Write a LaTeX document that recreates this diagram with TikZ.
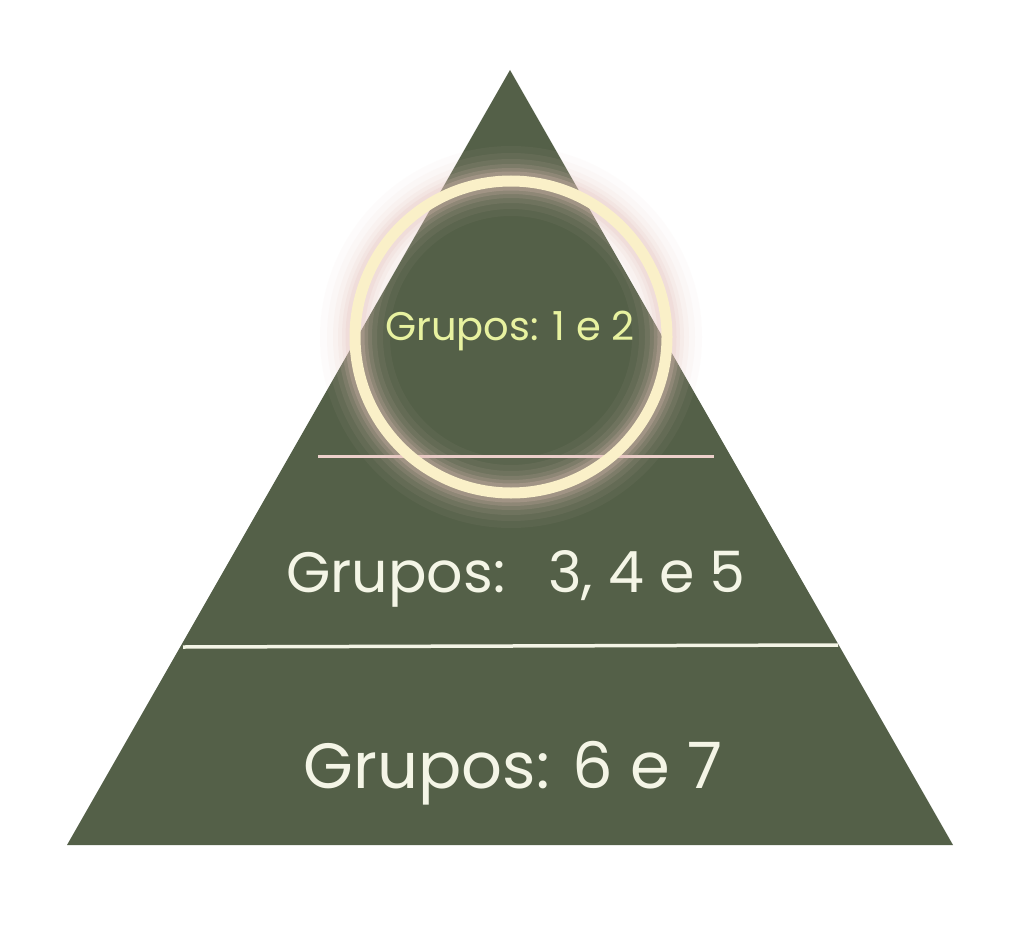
\documentclass[tikz,border=0pt]{standalone}
\usepackage{fontspec}
\setmainfont{Poppins}
\begin{document}
\begin{tikzpicture}[x=1pt,y=-1pt,
    layer/.style={text=textcream, inner sep=0pt, anchor=center},
    divider/.style={line width=3.5pt}]
\definecolor{pyrgreen}{RGB}{84,96,72}
\definecolor{textcream}{RGB}{244,245,230}
\definecolor{ringcream}{RGB}{250,240,200}
\definecolor{glowpink}{RGB}{232,196,190}
\definecolor{toptext}{RGB}{232,242,160}
%		    \draw[help lines] (0,0) grid (1024,925);
			\fill[white] (0,0) rectangle (1024,925);
			\coordinate (apex) at (510,70);
			\coordinate (baseL) at (67,845);
			\coordinate (baseR) at (953,845);
			\fill[pyrgreen] (apex) -- (baseR) -- (baseL) -- cycle;
			\coordinate (lineAL) at (318,456);
			\coordinate (lineAR) at (714,456);
			\coordinate (lineBL) at (183,647);
			\coordinate (lineBR) at (838,645);
			\draw[divider, draw=glowpink!80!white, line width=3pt] (lineAL) -- (lineAR);
			\draw[divider, draw=textcream] (lineBL) -- (lineBR);
			\coordinate (ring) at (511,337);
			\foreach \w/\o in {70/0.05,56/0.07,44/0.09,34/0.12,26/0.16,19/0.22}
			  \draw[glowpink, line width=\w pt, opacity=\o] (ring) circle (156);
			\draw[ringcream, line width=11pt] (ring) circle (156);
			\node[layer, text=toptext, font=\fontsize{40}{48}\selectfont] (top) at (510,331) {Grupos: 1 e 2};
			\node[layer, font=\fontsize{57}{68}\selectfont] (middle) at (516,579) {Grupos:\hspace{0.4em} 3, 4 e 5};
			\node[layer, font=\fontsize{64}{76}\selectfont] (bottom) at (513,773) {Grupos: 6 e 7};
		\end{tikzpicture}
\end{document}
